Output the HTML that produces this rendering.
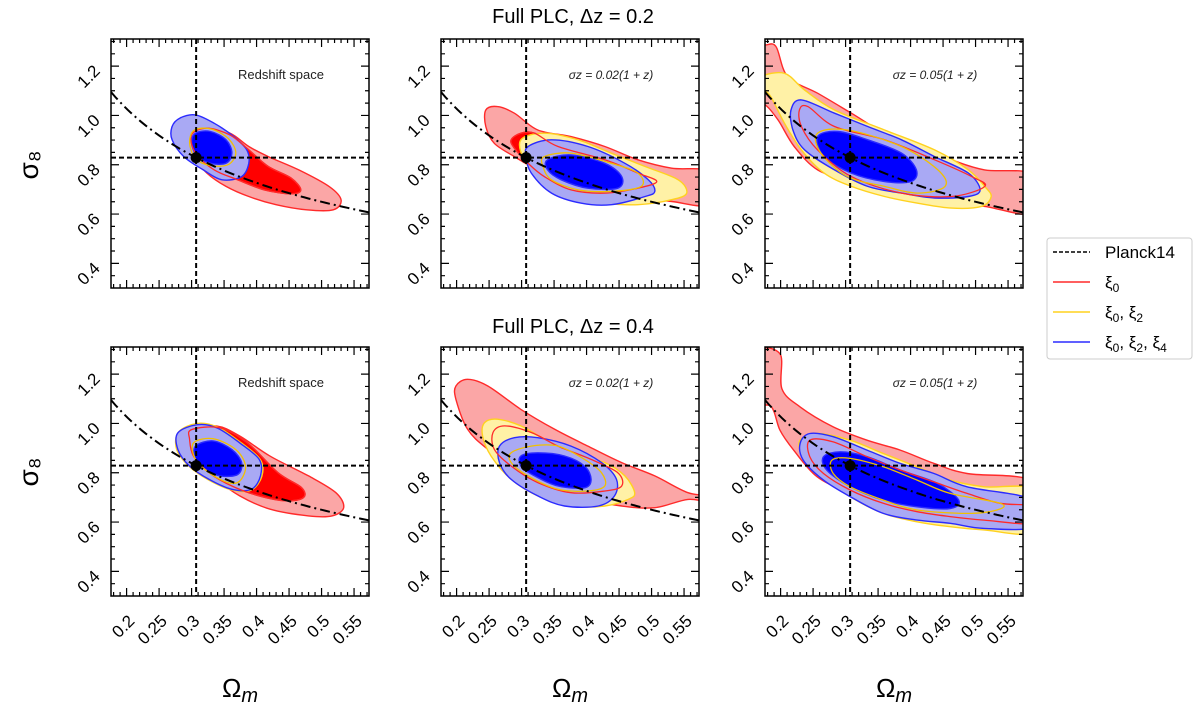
<!DOCTYPE html>
<html><head><meta charset="utf-8"><style>
body{margin:0;background:#fff;}
svg{display:block;font-family:"Liberation Sans","DejaVu Sans",sans-serif;}
</style></head><body>
<svg id="chart" width="1200" height="713" viewBox="0 0 1200 713"></svg>
<script>
const xRange=[0.176,0.573];
const yRange=[0.30,1.31];
const xTicks=[0.2,0.25,0.3,0.35,0.4,0.45,0.5,0.55];
const xTickLabels=["0.2","0.25","0.3","0.35","0.4","0.45","0.5","0.55"];
const yTicks=[0.4,0.6,0.8,1.0,1.2];
const yTickLabels=["0.4","0.6","0.8","1.0","1.2"];
const planckOm=[0.307];
const planckS8=[0.829];
const degeneracyExp=[0.5];
const panelNotes=["Redshift space","σz = 0.02(1 + z)","σz = 0.05(1 + z)","Redshift space","σz = 0.02(1 + z)","σz = 0.05(1 + z)"];
const rowTitles=["Full PLC, Δz = 0.2","Full PLC, Δz = 0.4"];

const A_redOuter=[[.3235,.948],[.359,.928],[.388,.874],[.418,.833],[.465,.779],[.512,.711],[.530,.657],[.518,.617],[.477,.617],[.430,.638],[.388,.671],[.353,.712],[.3235,.766],[.303,.833],[.300,.901]];
const A_redInner=[[.300,.921],[.3235,.948],[.359,.921],[.388,.860],[.418,.793],[.453,.746],[.468,.698],[.453,.682],[.412,.698],[.371,.739],[.335,.779],[.306,.847]];
const A_yellowOuter=[[.285,.98],[.306,.99],[.333,.96],[.362,.912],[.381,.86],[.384,.81],[.374,.758],[.347,.745],[.32,.783],[.29,.835],[.274,.9],[.274,.952]];
const A_yellowInner=[[.304,.94],[.33,.945],[.357,.905],[.368,.847],[.356,.8],[.328,.797],[.306,.826],[.297,.888]];
const A_blueOuter=[[.282,.989],[.306,1.002],[.335,.968],[.365,.914],[.385,.860],[.388,.806],[.377,.752],[.347,.739],[.318,.779],[.288,.833],[.270,.901],[.270,.955]];
const A_blueInner=[[.306,.928],[.329,.935],[.353,.901],[.362,.847],[.353,.806],[.329,.806],[.309,.833],[.300,.887]];

const B_redOuter=[[.245,1.022],[.263,1.036],[.289,1.009],[.325,.941],[.376,.914],[.428,.874],[.479,.820],[.531,.786],[.59,.770],[.59,.640],[.531,.651],[.479,.671],[.428,.698],[.376,.732],[.325,.779],[.289,.833],[.258,.887],[.245,.955]];
const B_redInner=[[.284,.901],[.299,.928],[.320,.928],[.356,.874],[.428,.820],[.479,.766],[.508,.732],[.479,.705],[.428,.685],[.376,.698],[.335,.752],[.310,.806],[.289,.867]];
const B_yellowOuter=[[.299,.901],[.335,.928],[.387,.901],[.438,.847],[.490,.793],[.541,.739],[.554,.685],[.531,.658],[.479,.638],[.428,.644],[.376,.671],[.330,.739],[.304,.820]];
const B_yellowInner=[[.335,.833],[.376,.847],[.438,.806],[.479,.766],[.484,.712],[.438,.692],[.387,.698],[.346,.739],[.333,.793]];
const B_blueOuter=[[.310,.874],[.346,.901],[.402,.874],[.459,.806],[.495,.739],[.505,.692],[.490,.671],[.438,.638],[.392,.644],[.346,.685],[.315,.766],[.307,.833]];
const B_blueInner=[[.340,.820],[.376,.840],[.428,.806],[.454,.752],[.448,.705],[.402,.705],[.361,.739],[.340,.779]];

const C_redOuter=[[.16,1.29],[.176,1.286],[.193,1.279],[.211,1.157],[.257,1.090],[.309,1.009],[.360,.928],[.411,.874],[.463,.820],[.514,.779],[.59,.759],[.59,.604],[.514,.631],[.463,.644],[.411,.658],[.360,.685],[.309,.732],[.257,.779],[.221,.874],[.196,.982],[.176,1.043],[.16,1.04]];
const C_redInner=[[.229,1.022],[.242,1.036],[.283,.955],[.360,.901],[.437,.820],[.494,.752],[.514,.712],[.463,.671],[.386,.685],[.309,.752],[.257,.860],[.232,.955]];
const C_yellowOuter=[[.17,1.157],[.206,1.171],[.237,1.103],[.283,1.022],[.360,.941],[.437,.860],[.489,.779],[.514,.712],[.524,.671],[.509,.631],[.463,.624],[.411,.644],[.360,.671],[.309,.712],[.267,.766],[.232,.860],[.206,.968],[.185,1.076],[.17,1.117]];
const C_yellowInner=[[.257,.928],[.303,.941],[.386,.874],[.442,.779],[.453,.712],[.411,.685],[.360,.712],[.303,.752],[.262,.847]];
const C_blueOuter=[[.216,1.022],[.232,1.063],[.283,1.009],[.334,.955],[.386,.901],[.437,.833],[.489,.766],[.507,.698],[.489,.671],[.437,.665],[.386,.685],[.334,.712],[.283,.779],[.237,.860],[.219,.941]];
const C_blueInner=[[.257,.914],[.288,.935],[.334,.901],[.386,.847],[.409,.779],[.401,.732],[.360,.732],[.309,.766],[.267,.833]];

const D_redOuter=[[.297,.975],[.339,.989],[.374,.949],[.421,.867],[.480,.787],[.522,.719],[.534,.659],[.516,.625],[.480,.625],[.421,.652],[.374,.706],[.339,.773],[.315,.841],[.300,.908]];
const D_redInner=[[.300,.975],[.344,.982],[.386,.921],[.433,.800],[.469,.740],[.472,.699],[.445,.686],[.404,.706],[.362,.746],[.327,.800],[.303,.867],[.297,.935]];
const D_yellowOuter=[[.28,.965],[.309,1.0],[.34,.985],[.376,.922],[.406,.852],[.408,.785],[.392,.730],[.362,.730],[.326,.771],[.296,.826],[.277,.895]];
const D_yellowInner=[[.303,.921],[.333,.938],[.368,.894],[.383,.827],[.374,.766],[.356,.760],[.327,.800],[.306,.854]];
const D_blueOuter=[[.279,.962],[.309,.995],[.339,.982],[.374,.921],[.404,.854],[.406,.787],[.392,.733],[.362,.733],[.327,.773],[.297,.827],[.279,.894]];
const D_blueInner=[[.306,.908],[.333,.929],[.362,.894],[.377,.841],[.371,.793],[.344,.787],[.321,.814],[.306,.854]];

const E_redOuter=[[.199,1.152],[.217,1.179],[.248,1.152],[.299,1.057],[.351,.976],[.402,.908],[.454,.841],[.505,.787],[.556,.719],[.59,.706],[.59,.68],[.556,.692],[.505,.658],[.454,.665],[.402,.692],[.351,.733],[.299,.800],[.248,.895],[.217,.976],[.199,1.098]];
const E_redInner=[[.256,.963],[.274,.990],[.315,.963],[.356,.908],[.407,.854],[.448,.800],[.454,.746],[.428,.726],[.376,.719],[.325,.760],[.284,.827],[.258,.895]];
const E_yellowOuter=[[.243,1.003],[.263,1.017],[.299,.990],[.335,.936],[.376,.881],[.428,.841],[.459,.787],[.474,.719],[.464,.692],[.428,.665],[.376,.665],[.325,.706],[.284,.773],[.253,.868],[.240,.949]];
const E_yellowInner=[[.284,.881],[.315,.908],[.356,.908],[.397,.854],[.423,.800],[.428,.746],[.402,.726],[.356,.733],[.310,.787],[.284,.841]];
const E_blueOuter=[[.266,.908],[.289,.942],[.325,.942],[.376,.908],[.423,.841],[.446,.773],[.443,.706],[.418,.665],[.366,.665],[.325,.706],[.284,.773],[.266,.841]];
const E_blueInner=[[.299,.868],[.325,.881],[.366,.868],[.397,.827],[.407,.773],[.397,.739],[.356,.746],[.320,.787],[.299,.827]];

const F_redOuter=[[.16,1.29],[.199,1.283],[.202,1.141],[.230,1.067],[.281,.986],[.333,.932],[.384,.892],[.436,.838],[.487,.797],[.59,.763],[.59,.581],[.513,.601],[.461,.622],[.410,.635],[.358,.662],[.307,.716],[.256,.784],[.220,.892],[.199,.973],[.186,1.067],[.16,1.094]];
const F_redInner=[[.245,.932],[.281,.925],[.333,.865],[.384,.811],[.436,.763],[.487,.716],[.538,.676],[.59,.662],[.59,.595],[.513,.608],[.461,.622],[.410,.642],[.358,.676],[.307,.730],[.266,.797],[.245,.865]];
const F_yellowOuter=[[.230,.932],[.256,.959],[.307,.932],[.358,.878],[.410,.824],[.461,.770],[.513,.743],[.59,.730],[.59,.561],[.513,.568],[.461,.581],[.410,.601],[.358,.635],[.307,.703],[.256,.797],[.233,.878]];
const F_yellowInner=[[.279,.851],[.307,.858],[.358,.824],[.410,.770],[.461,.716],[.538,.676],[.533,.649],[.487,.635],[.410,.649],[.358,.689],[.307,.743],[.281,.797]];
const F_blueOuter=[[.230,.919],[.245,.959],[.281,.946],[.333,.892],[.384,.838],[.436,.797],[.487,.743],[.59,.689],[.59,.581],[.513,.574],[.461,.595],[.410,.608],[.358,.635],[.307,.703],[.266,.770],[.235,.851]];
const F_blueInner=[[.266,.865],[.292,.885],[.333,.865],[.384,.811],[.441,.757],[.474,.689],[.461,.655],[.410,.662],[.358,.689],[.307,.743],[.271,.811]];

const panelData=[
 [A_redOuter,A_redInner,A_yellowOuter,A_yellowInner,A_blueOuter,A_blueInner],
 [B_redOuter,B_redInner,B_yellowOuter,B_yellowInner,B_blueOuter,B_blueInner],
 [C_redOuter,C_redInner,C_yellowOuter,C_yellowInner,C_blueOuter,C_blueInner],
 [D_redOuter,D_redInner,D_yellowOuter,D_yellowInner,D_blueOuter,D_blueInner],
 [E_redOuter,E_redInner,E_yellowOuter,E_yellowInner,E_blueOuter,E_blueInner],
 [F_redOuter,F_redInner,F_yellowOuter,F_yellowInner,F_blueOuter,F_blueInner]];

const NS="http://www.w3.org/2000/svg";
const svg=document.getElementById('chart');
const lefts=[111,441,765], tops=[39,347], W=258, H=249;
function mk(tag,attrs,parent){const e=document.createElementNS(NS,tag);for(const k in attrs)e.setAttribute(k,attrs[k]);(parent||svg).appendChild(e);return e;}
function smooth(pts){
  const n=pts.length;let d="M"+pts[0][0]+","+pts[0][1];
  for(let i=0;i<n;i++){
    const p0=pts[(i-1+n)%n],p1=pts[i],p2=pts[(i+1)%n],p3=pts[(i+2)%n];
    const c1=[p1[0]+(p2[0]-p0[0])/6,p1[1]+(p2[1]-p0[1])/6];
    const c2=[p2[0]-(p3[0]-p1[0])/6,p2[1]-(p3[1]-p1[1])/6];
    d+="C"+c1[0].toFixed(1)+","+c1[1].toFixed(1)+" "+c2[0].toFixed(1)+","+c2[1].toFixed(1)+" "+p2[0].toFixed(1)+","+p2[1].toFixed(1);
  }
  return d+"Z";
}
const names=['red-outer','red-inner','yellow-outer','yellow-inner','blue-outer','blue-inner'];
const fills=['#fba6a6','#ff0000','#fff1a6','#fff1a6','#a9a9f4','#0000ff'];
const strokes=['#ff2a2a','#ff2a2a','#ffd21f','#f0c000','#2b2bff','#2b2bff'];

for(let p=0;p<6;p++){
  const row=Math.floor(p/3),col=p%3;
  const L=lefts[col],T=tops[row];
  const sx=v=>L+(v-xRange[0])/(xRange[1]-xRange[0])*W;
  const sy=v=>T+(yRange[1]-v)/(yRange[1]-yRange[0])*H;
  const g=mk('g',{});
  
  
  mk('clipPath',{id:'clip'+p},g);
  mk('rect',{x:L,y:T,width:W,height:H},document.getElementById('clip'+p));
  const cg=mk('g',{'clip-path':'url(#clip'+p+')'},g);
  const conts=panelData[p];
  [0,1,2,3,4,5].forEach(i=>{
    const pts=conts[i].map(q=>[sx(q[0]),sy(q[1])]);
    const path=mk('path',{d:smooth(pts),fill:fills[i],stroke:strokes[i],'stroke-width':1.4},cg);
    
    
  });
  [1,3].forEach(i=>{
    const pts=conts[i].map(q=>[sx(q[0]),sy(q[1])]);
    const path=mk('path',{d:smooth(pts),fill:'none',stroke:strokes[i],'stroke-width':1.3},cg);
    
    
  });
  let dd="";
  for(let k=0;k<=60;k++){const om=xRange[0]+(xRange[1]-xRange[0])*k/60;const s8=planckS8[0]*Math.pow(om/planckOm[0],-degeneracyExp[0]);dd+=(k?"L":"M")+sx(om).toFixed(1)+","+sy(s8).toFixed(1);}
  const dc=mk('path',{d:dd,fill:'none',stroke:'#000','stroke-width':2,'stroke-dasharray':'10,4,2,4'},cg);
  
  
  const vl=mk('line',{x1:sx(planckOm[0]),x2:sx(planckOm[0]),y1:T,y2:T+H,stroke:'#000','stroke-width':2,'stroke-dasharray':'5,3'},cg);
  
  
  const hl=mk('line',{x1:L,x2:L+W,y1:sy(planckS8[0]),y2:sy(planckS8[0]),stroke:'#000','stroke-width':2,'stroke-dasharray':'5,3'},cg);
  
  
  const pt=mk('circle',{cx:sx(planckOm[0]),cy:sy(planckS8[0]),r:5.5,fill:'#000'},cg);
  
  
  const fr=mk('rect',{x:L,y:T,width:W,height:H,fill:'none',stroke:'#000','stroke-width':1.5},g);
  
  
  let td="";
  for(let v=0.18;v<=0.571;v+=0.01){const x=sx(v);const maj=Math.abs((v*100)%5)<0.01||Math.abs((v*100)%5-5)<0.01;const len=maj?8:4;td+="M"+x+","+(T+H)+"v"+(-len)+"M"+x+","+T+"v"+len;}
  for(let v=0.35;v<=1.301;v+=0.05){const y=sy(v);const maj=Math.abs((v*10)%2)<0.02||Math.abs((v*10)%2-2)<0.02;const len=maj?8:4;td+="M"+L+","+y+"h"+len+"M"+(L+W)+","+y+"h"+(-len);}
  const tk=mk('path',{d:td,stroke:'#000','stroke-width':1.2,fill:'none'},g);
  
  
  yTicks.forEach((v,i)=>{
    const x=L-10,y=sy(v)+6;
    const t=mk('text',{x:x,y:y,'text-anchor':'end','font-size':17,transform:'rotate(-45 '+x+' '+y+')'},g);
    t.textContent=yTickLabels[i];
    
    
  });
  if(row===1){
    xTicks.forEach((v,i)=>{
      const x=sx(v)+9,y=T+H+26;
      const t=mk('text',{x:x,y:y,'text-anchor':'end','font-size':17,transform:'rotate(-45 '+x+' '+y+')'},g);
      t.textContent=xTickLabels[i];
      
      
    });
  }
  const nt=mk('text',{x:L+170,y:T+40,'text-anchor':'middle','font-size':col===0?13:12,fill:'#222','font-style':col===0?'normal':'italic'},g);
  nt.textContent=panelNotes[p];
  
  
}
rowTitles.forEach((s,i)=>{
  const t=mk('text',{x:573,y:i?333:23,'text-anchor':'middle','font-size':20});
  t.textContent=s;
  
  
});
[165,472].forEach(y=>{
  const t=mk('text',{x:38,y:y,'text-anchor':'middle','font-size':28,transform:'rotate(-90 38 '+y+')'});
  t.textContent='σ₈';
  
  
});
lefts.forEach(L=>{
  const t=mk('text',{x:L+W/2,y:697,'text-anchor':'middle','font-size':26});
  t.innerHTML='Ω<tspan font-style="italic" font-size="20" dy="5">m</tspan>';
  
  
});
const lg=mk('g',{});


mk('rect',{x:1047,y:238,width:145,height:121,rx:3,fill:'#fff',stroke:'#ccc'},lg);
const legLabels=['Planck14','ξ<tspan font-size="12" dy="4">0</tspan>','ξ<tspan font-size="12" dy="4">0</tspan><tspan dy="-4">, ξ</tspan><tspan font-size="12" dy="4">2</tspan>','ξ<tspan font-size="12" dy="4">0</tspan><tspan dy="-4">, ξ</tspan><tspan font-size="12" dy="4">2</tspan><tspan dy="-4">, ξ</tspan><tspan font-size="12" dy="4">4</tspan>'];
const legColors=['#000','#ff2a2a','#ffd21f','#2b2bff'];
legLabels.forEach((s,i)=>{
  const y=252+i*30;
  const ln=mk('line',{x1:1053,x2:1090,y1:y,y2:y,stroke:legColors[i],'stroke-width':1.6,'stroke-dasharray':i===0?'4,2':'none'},lg);
  
  
  const t=mk('text',{x:1105,y:y+6,'font-size':17},lg);
  t.innerHTML=s;
  
  
});
</script>
</body></html>
